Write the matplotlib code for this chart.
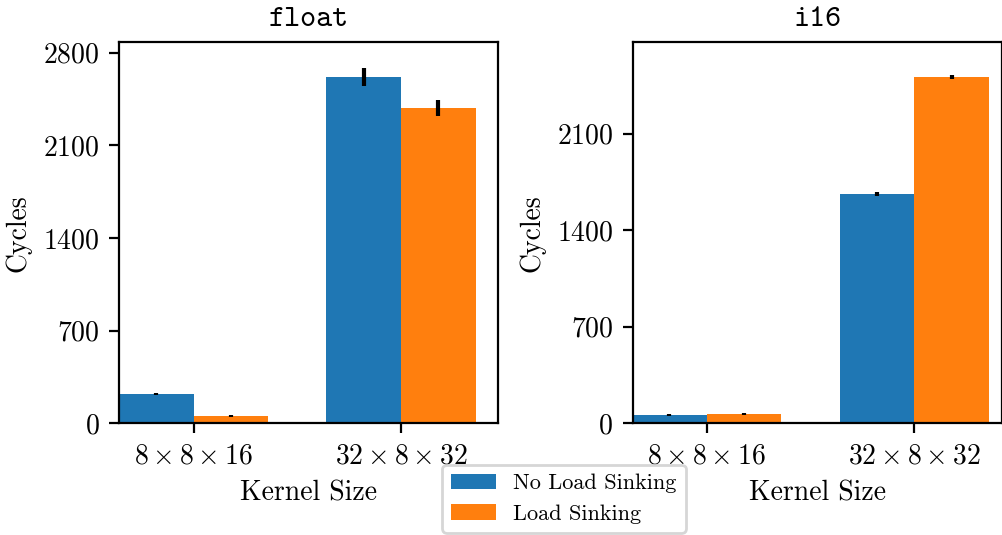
import matplotlib
matplotlib.use('Agg')
import matplotlib.pyplot as plt
import numpy as np

plt.rcParams['font.family'] = 'cmr10'
plt.rcParams['mathtext.fontset'] = 'cm'
plt.rcParams['axes.formatter.use_mathtext'] = True
plt.rcParams['font.size'] = 10

# 数据
kernels = [r'$8 \times 8 \times 16$', r'$32 \times 8 \times 32$']
series = ['No Load Sinking', 'Load Sinking']
colors = ['#1f77b4', '#ff7f0e']

float_no_sink = [221, 2616]
float_no_sink_err = [9, 67]
float_sink = [55, 2382]
float_sink_err = [8, 59]

i16_no_sink = [60, 1663]
i16_no_sink_err = [8, 12]
i16_sink = [69, 2512]
i16_sink_err = [8, 12]

fig = plt.figure(figsize=(5.015, 2.675), dpi=200)
ax1 = fig.add_axes([0.1186, 0.2088, 0.3779, 0.7122])
ax2 = fig.add_axes([0.6308, 0.2088, 0.3682, 0.7122])

width = 0.36
x = np.arange(len(kernels))

panels = [
    (ax1, 'float', float_no_sink, float_no_sink_err, float_sink, float_sink_err,
     [0, 700, 1400, 2100, 2800], (0, 2878), (-0.36, 1.467)),
    (ax2, 'i16', i16_no_sink, i16_no_sink_err, i16_sink, i16_sink_err,
     [0, 700, 1400, 2100], (0, 2764), (-0.356, 1.422)),
]

for ax, title, a, aerr, b, berr, yticks, ylim, xlim in panels:
    ax.bar(x - width / 2, a, width, yerr=aerr, color=colors[0], label=series[0],
           error_kw={'elinewidth': 1.5, 'capsize': 0})
    ax.bar(x + width / 2, b, width, yerr=berr, color=colors[1], label=series[1],
           error_kw={'elinewidth': 1.5, 'capsize': 0})
    ax.set_title(title, family='cmtt10', fontsize=11)
    ax.set_xticks(x)
    ax.set_xticklabels(kernels)
    ax.set_yticks(yticks)
    ax.set_ylim(*ylim)
    ax.set_xlim(*xlim)
    ax.set_xlabel('Kernel Size')
    ax.set_ylabel('Cycles')

handles, labels = ax1.get_legend_handles_labels()
fig.legend(handles, labels, loc='lower center', bbox_to_anchor=(564 / 1003, 0.004),
           borderaxespad=0, fontsize=8)

plt.savefig('out.png', dpi=200)
plt.close()
